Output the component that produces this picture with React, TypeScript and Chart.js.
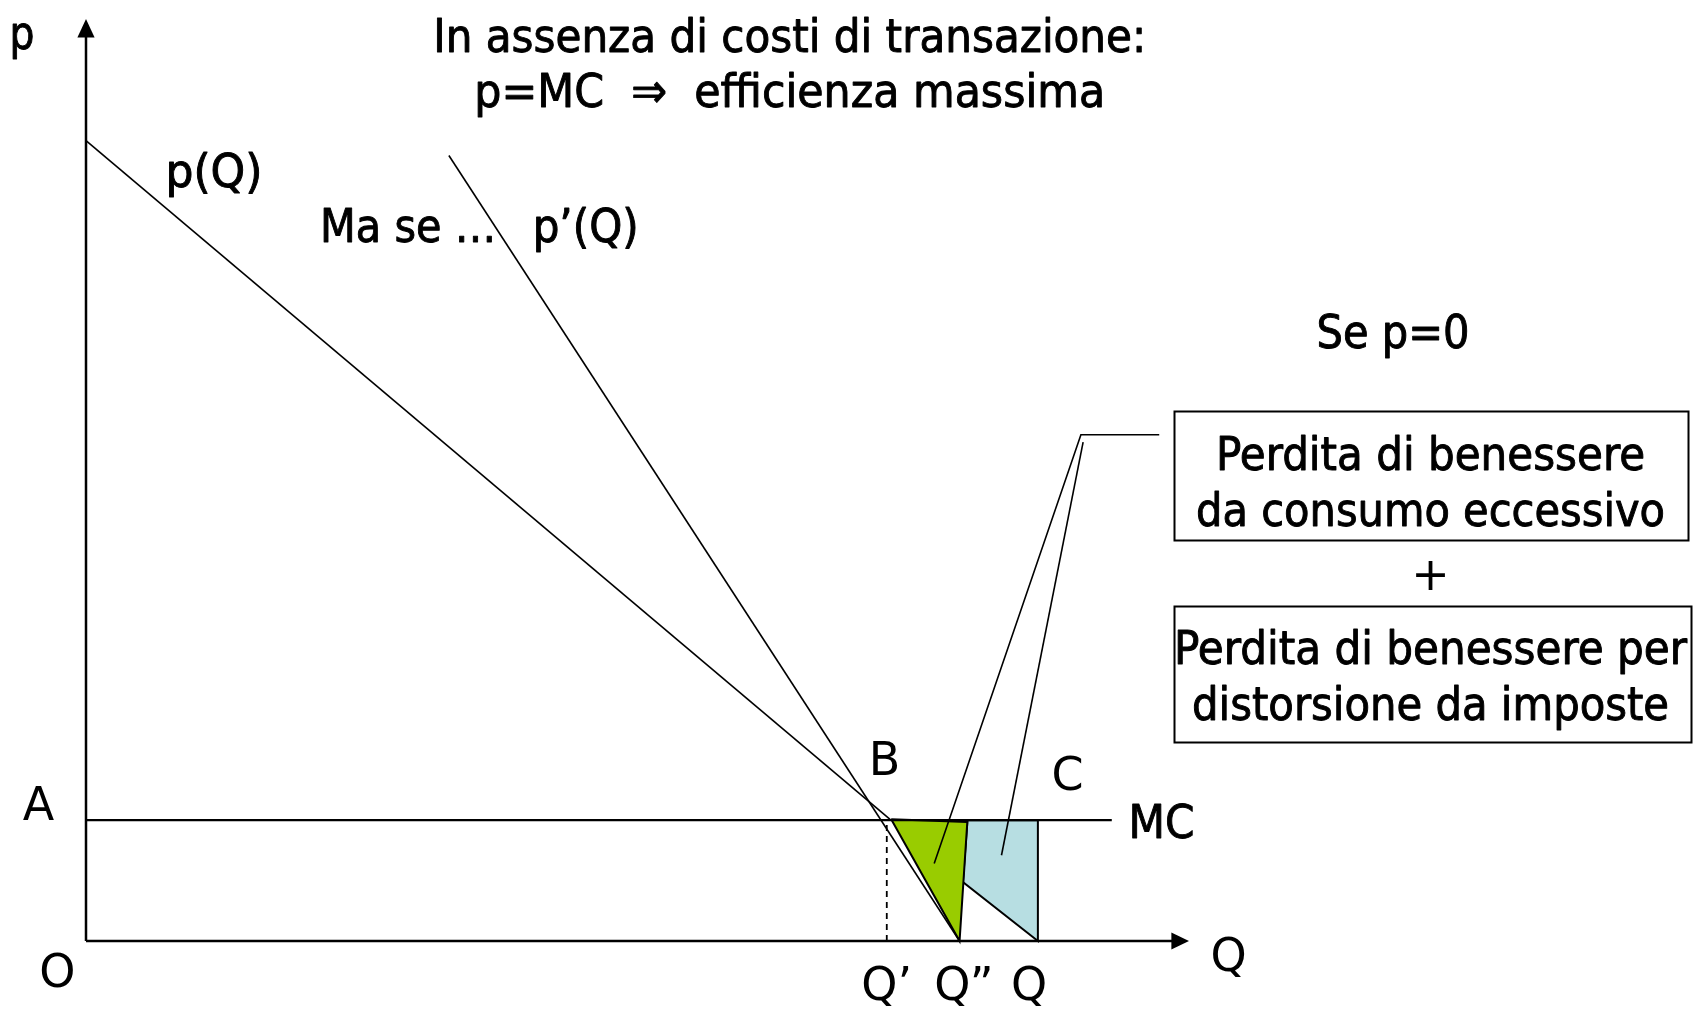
import React, { useEffect, useRef } from "react";
import { Chart, registerables } from "chart.js";

Chart.register(...registerables);

// ---- Data (Q on x, p on y; axis units 0..100) ----
const demandPQ = [ { x: 0, y: 86.8 }, { x: 72.9, y: 13.2 } ];          // p(Q)
const demandPPrime = [ { x: 32.9, y: 85.2 }, { x: 79.2, y: 0 } ];       // p'(Q)
const marginalCost = [ { x: 0, y: 13.1 }, { x: 93.0, y: 13.1 } ];       // MC
const qPrimeDrop = [ { x: 72.6, y: 0 }, { x: 72.6, y: 13.1 } ];         // Q' dashed
const greenArea = [ { x: 73.0, y: 13.2 }, { x: 79.9, y: 12.9 }, { x: 79.2, y: 0 }, { x: 73.0, y: 13.2 } ];
const blueArea = [ { x: 79.9, y: 13.1 }, { x: 86.3, y: 13.1 }, { x: 86.3, y: 0 }, { x: 79.5, y: 6.4 }, { x: 79.9, y: 12.8 }, { x: 79.9, y: 13.1 } ];
const leaderTop = [ { x: 97.3, y: 54.9 }, { x: 90.2, y: 54.9 }, { x: 76.9, y: 8.4 } ];
const leaderSecond = [ { x: 90.4, y: 54.1 }, { x: 83.0, y: 9.3 } ];
const yAxisLine = [ { x: 0, y: 0 }, { x: 0, y: 98.4 } ];
const xAxisLine = [ { x: 0, y: 0 }, { x: 98.6, y: 0 } ];
const yArrowHead = [ { x: 0, y: 100 }, { x: -0.78, y: 98.0 }, { x: 0.78, y: 98.0 } ];
const xArrowHead = [ { x: 100, y: 0 }, { x: 98.4, y: 0.92 }, { x: 98.4, y: -0.92 } ];

// Narrow (condensed) labels: text, x, baseline y, fitted width
const narrowLabels: [string, number, number, number][] = [
  ["In assenza di costi di transazione:", 63.8, 96.4, 713],
  ["p=MC  \u21D2  efficienza massima", 63.8, 90.5, 631],
  ["p(Q)", 11.6, 81.8, 97],
  ["Ma se \u2026", 29.2, 75.8, 176],
  ["p\u2019(Q)", 45.3, 75.8, 106],
  ["Se p=0", 118.5, 64.3, 153],
  ["Perdita di benessere", 121.9, 51.1, 429],
  ["da consumo eccessivo", 121.9, 45.0, 469],
  ["Perdita di benessere per", 121.9, 30.0, 513],
  ["distorsione da imposte", 121.9, 24.0, 477],
  ["MC", 97.5, 11.2, 66],
  ["p", -5.8, 96.7, 25],
];
// Wide labels: text, x, baseline y
const pointLabels: [string, number, number][] = [
  ["A", -4.3, 13.1],
  ["B", 72.4, 18.0],
  ["C", 89.0, 16.4],
  ["O", -2.6, -5.0],
  ["Q", 103.6, -3.3],
  ["Q\u2019", 72.6, -6.4],
  ["Q\u201D", 79.6, -6.4],
  ["Q", 85.5, -6.4],
];
const plusSign: [string, number, number] = ["+", 121.9, 38.1];
const boxes: [number, number, number, number][] = [
  [98.6, 57.5, 145.2, 43.5],
  [98.6, 36.3, 145.5, 21.6],
];

const NARROW_FONT = "47px 'DejaVu Sans Condensed', 'DejaVu Sans'";
const WIDE_FONT = "46px 'DejaVu Sans'";

const annotations = {
  id: "annotations",
  afterDraw(chart: any) {
    const { ctx, scales } = chart;
    const X = (v: number) => scales.x.getPixelForValue(v);
    const Y = (v: number) => scales.y.getPixelForValue(v);
    ctx.save();
    ctx.fillStyle = "#000";
    ctx.strokeStyle = "#000";
    // arrowheads
    [yArrowHead, xArrowHead].forEach((pts) => {
      ctx.beginPath();
      pts.forEach((p, i) => (i ? ctx.lineTo(X(p.x), Y(p.y)) : ctx.moveTo(X(p.x), Y(p.y))));
      ctx.closePath();
      ctx.fill();
    });
    ctx.textAlign = "center";
    ctx.textBaseline = "alphabetic";
    // boxes
    ctx.lineWidth = 2;
    boxes.forEach(([x1, y1, x2, y2]) => {
      ctx.strokeRect(Math.round(X(x1)) + 0.5, Math.round(Y(y1)) + 0.5, Math.round(X(x2) - X(x1)), Math.round(Y(y2) - Y(y1)));
    });
    // narrow labels (slightly heavier strokes)
    ctx.font = NARROW_FONT;
    ctx.lineJoin = "round";
    narrowLabels.forEach(([t, x, y, w]) => {
      const natural = ctx.measureText(t).width;
      const s = w / natural;
      ctx.save();
      ctx.translate(X(x), Y(y));
      ctx.scale(s, 1);
      ctx.lineWidth = 0.9;
      ctx.fillText(t, 0, 0);
      ctx.strokeText(t, 0, 0);
      ctx.restore();
    });
    ctx.font = WIDE_FONT;
    pointLabels.forEach(([t, x, y]) => ctx.fillText(t, X(x), Y(y)));
    ctx.fillText(plusSign[0], X(plusSign[1]), Y(plusSign[2]));
    ctx.restore();
  },
};

export default function App() {
  const ref = useRef<HTMLCanvasElement>(null);
  useEffect(() => {
    const line = (data: any, extra: any = {}) => ({
      data,
      showLine: true,
      pointRadius: 0,
      borderColor: "#000",
      borderWidth: 1.6,
      fill: false,
      clip: false,
      ...extra,
    });
    const chart = new Chart(ref.current as HTMLCanvasElement, {
      type: "scatter",
      data: {
        datasets: [
          line(yAxisLine, { borderWidth: 2.5, order: 1 }),
          line(xAxisLine, { borderWidth: 2.5, order: 1 }),
          line(marginalCost, { borderWidth: 2.2, order: 2 }),
          line(demandPQ, { order: 2 }),
          line(demandPPrime, { order: 2 }),
          line(qPrimeDrop, { borderWidth: 1.8, borderDash: [6, 5], order: 2 }),
          line(leaderTop, { order: 1 }),
          line(leaderSecond, { order: 1 }),
          line(greenArea, { borderWidth: 2, fill: "shape", backgroundColor: "#99cc00", order: 5 }),
          line(blueArea, { borderWidth: 2, fill: "shape", backgroundColor: "#b7dee2", order: 5 }),
        ],
      },
      options: {
        responsive: false,
        animation: false,
        layout: { padding: { left: 86, top: 19, right: 504, bottom: 68 } },
        plugins: { legend: { display: false }, tooltip: { enabled: false }, title: { display: false } },
        scales: {
          x: { type: "linear", min: 0, max: 100, display: false },
          y: { type: "linear", min: 0, max: 100, display: false },
        },
        events: [],
      },
      plugins: [annotations],
    });
    return () => chart.destroy();
  }, []);
  return (
    <div style={{ position: "fixed", left: 0, top: 0, width: 1693, height: 1009, background: "#fff" }}>
      <canvas ref={ref} width={1693} height={1009} style={{ display: "block" }} />
    </div>
  );
}
